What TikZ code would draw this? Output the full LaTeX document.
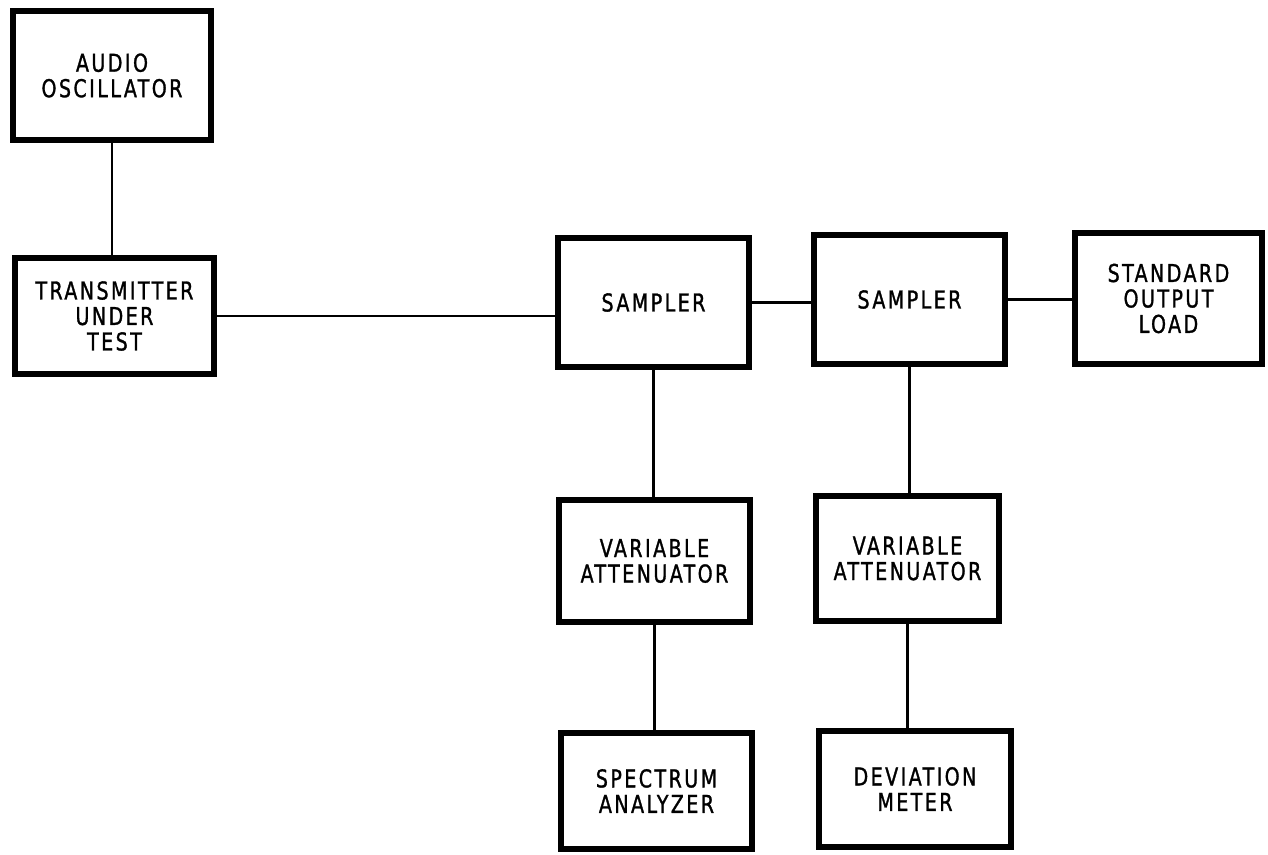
\documentclass[tikz,border=0pt]{standalone}
\usepackage{fontspec}
\newfontfamily\boxfont[FakeStretch=0.86,LetterSpace=10,FakeBold=1.2]{DejaVu Sans Condensed}
\usetikzlibrary{positioning}

\begin{document}
\begin{tikzpicture}[x=0.02cm,y=-0.02cm,
        block/.style={draw, line width=3.4pt, align=center, inner sep=0pt, font=\boxfont\fontsize{14}{14.5}\selectfont},
        wire/.style={line width=1.6pt}]
        \useasboundingbox (0,0) rectangle (1268,855);
        \foreach \nm/\x/\y/\w/\h/\txt in {ao/112/75.5/198/129/{AUDIO\\OSCILLATOR},
                tut/114.5/316/199/116/{TRANSMITTER\\UNDER\\TEST},
                s1/653.5/302.5/191/129/{SAMPLER},
                s2/909.5/299.5/191/129/{SAMPLER},
                sol/1168.5/298.5/187/131/{STANDARD\\OUTPUT\\LOAD},
                va1/654.5/561/191/122/{VARIABLE\\ATTENUATOR},
                va2/907.5/558.5/183/125/{VARIABLE\\ATTENUATOR},
                sa/656.5/791/191/116/{SPECTRUM\\ANALYZER},
                dm/915/789/192/116/{DEVIATION\\METER}}{\node[block, minimum width=\w*0.02cm, minimum height=\h*0.02cm] (\nm) at (\x,\y) {\txt};}
       \draw[wire] (ao.south) -- (ao.south |- tut.north);
       \draw[wire] (tut.east) -- (tut.east -| s1.west);
       \draw[wire, line width=2.2pt] (s1.east) -- (s1.east -| s2.west);
       \draw[wire, line width=2.2pt] (s2.east) -- (s2.east -| sol.west);
       \draw[wire] (s1.south) -- (s1.south |- va1.north);
       \draw[wire] (va1.south) -- (va1.south |- sa.north);
       \draw[wire] (s2.south) -- (s2.south |- va2.north);
       \draw[wire] (va2.south) -- (va2.south |- dm.north);
\end{tikzpicture}
\end{document}
